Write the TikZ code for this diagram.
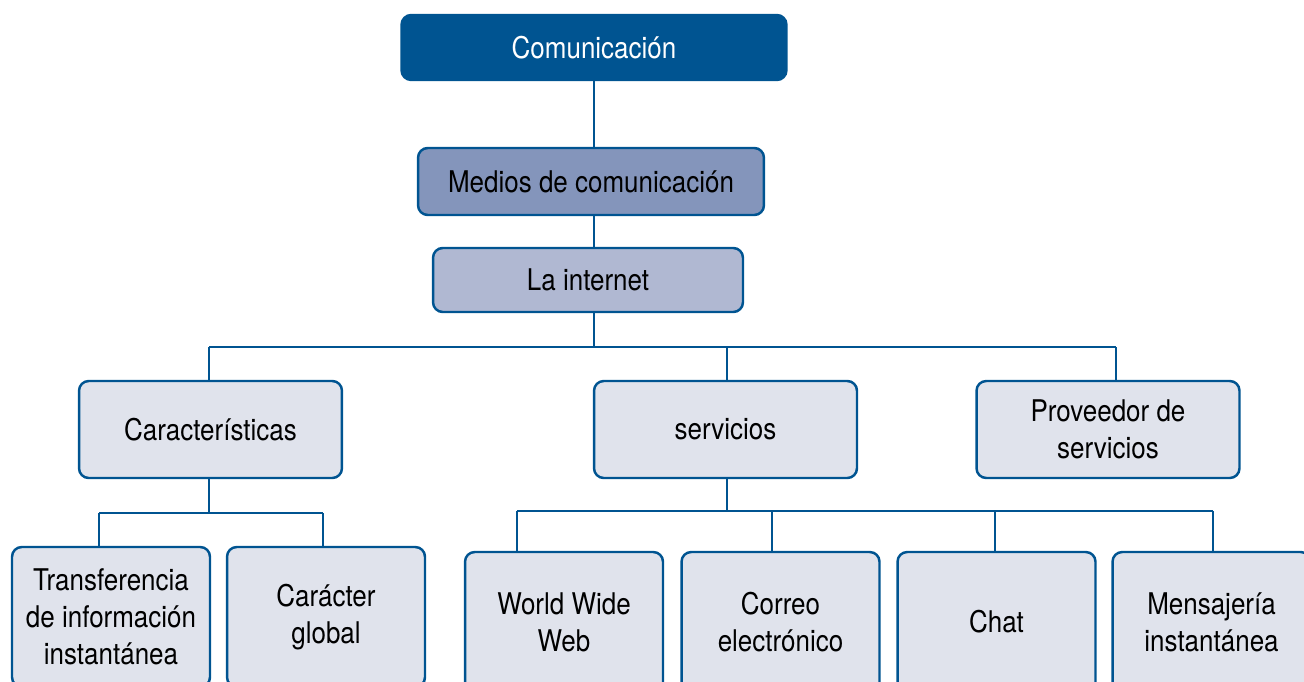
\documentclass[tikz,border=0pt]{standalone}
\usepackage{fontspec}
\setmainfont{TeX Gyre Heros}[FakeStretch=0.87]
\usetikzlibrary{positioning}
\definecolor{mapblue}{RGB}{0,84,145}
\definecolor{medblue}{RGB}{132,149,187}
\definecolor{lightblue}{RGB}{176,184,210}
\definecolor{paleblue}{RGB}{224,227,236}
\tikzset{
  box/.style     = {draw=mapblue, line width=1.4pt, rounded corners=5.5pt,
                    align=center, inner sep=0pt,
                    font=\fontsize{17}{21}\selectfont},
  topbox/.style  = {box, fill=mapblue, text=white,
                    minimum width=7.7cm, minimum height=1.3cm},
  medbox/.style  = {box, fill=medblue, minimum width=6.92cm, minimum height=1.34cm},
  netbox/.style  = {box, fill=lightblue, minimum width=6.2cm, minimum height=1.28cm},
  midbox/.style  = {box, fill=paleblue, minimum width=5.26cm, minimum height=1.94cm},
  leafbox/.style = {box, fill=paleblue, minimum width=3.96cm, minimum height=2.8cm},
  link/.style    = {draw=mapblue, line width=1.2pt},
}
\begin{document}
\begin{tikzpicture}[x=0.02cm, y=-0.02cm]
\useasboundingbox (0,0) rectangle (1304,682);
\clip (0,0) rectangle (1304,682);

% ---------------- top chain ----------------
\node[topbox] (com) at (594,47.5) {Comunicación};
\node[medbox] (medios) at (591,181.5) {Medios de comunicación};
\node[netbox] (internet) at (588,280) {La internet};

\draw[link] (com.south) -- (com.south |- medios.north);
\draw[link] (com.south |- medios.south) -- (com.south |- internet.north);

% ---------------- second level ----------------
\node[midbox] (carac) at (210.5,429.5) {Características};
\node[midbox] (serv) at (725.5,429.5) {servicios};
\node[midbox] (prov) at (1108,429.5) {Proveedor de\\servicios};

\coordinate (bus1) at (594,347);
\coordinate (p1) at (209,347);
\coordinate (p2) at (727,347);
\coordinate (p3) at (1116,347);
\draw[link] (bus1 |- internet.south) -- (bus1);
\draw[link] (p1) -- (p3);
\draw[link] (p1) -- (p1 |- carac.north);
\draw[link] (p2) -- (p2 |- serv.north);
\draw[link] (p3) -- (p3 |- prov.north);

% ---------------- leaves of Características ----------------
\node[leafbox] (transf) at (111,617) {Transferencia\\de información\\instantánea};
\node[leafbox] (global) at (326,617) {Carácter\\global};

\coordinate (c1) at (99,513);
\coordinate (c2) at (323,513);
\draw[link] (p1 |- carac.south) -- (p1 |- c1);
\draw[link] (c1) -- (c2);
\draw[link] (c1) -- (c1 |- transf.north);
\draw[link] (c2) -- (c2 |- global.north);

% ---------------- leaves of servicios ----------------
\node[leafbox] (www) at (564,622) {World Wide\\Web};
\node[leafbox] (correo) at (780.5,622) {Correo\\electrónico};
\node[leafbox] (chat) at (996.5,622) {Chat};
\node[leafbox] (mensa) at (1211.5,622) {Mensajería\\instantánea};

\coordinate (s1) at (517,511);
\coordinate (s2) at (772,511);
\coordinate (s3) at (995,511);
\coordinate (s4) at (1213,511);
\draw[link] (p2 |- serv.south) -- (p2 |- s1);
\draw[link] (s1) -- (s4);
\draw[link] (s1) -- (s1 |- www.north);
\draw[link] (s2) -- (s2 |- correo.north);
\draw[link] (s3) -- (s3 |- chat.north);
\draw[link] (s4) -- (s4 |- mensa.north);

\end{tikzpicture}
\end{document}
